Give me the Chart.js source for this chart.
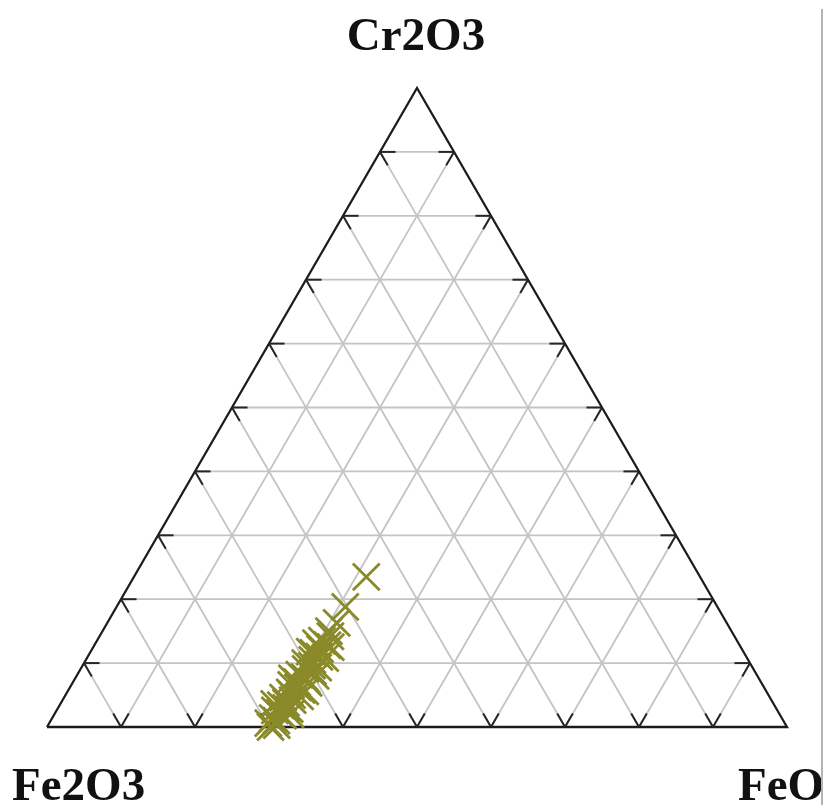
<!DOCTYPE html>
<html>
<head>
<meta charset="utf-8">
<script src="https://cdn.jsdelivr.net/npm/chart.js@4/dist/chart.umd.min.js"></script>
<style>
  html, body { margin: 0; padding: 0; background: #ffffff; }
  #wrap { width: 825px; height: 805px; }
</style>
</head>
<body>
<div id="wrap"><canvas id="c" width="825" height="805"></canvas></div>
<script>
// ---- Data (percent) ----
const apexLabels = ['Cr2O3', 'Fe2O3', 'FeO']; // top, bottom-left, bottom-right
const gridTicks = [10, 20, 30, 40, 50, 60, 70, 80, 90];

const cr2o3 = [23.5, 18.8, 16.3, 15.0, 14.2, 13.5, 12.8, 12.2, 11.6, 11.0,
               10.5, 10.0, 9.6, 9.1, 8.7, 8.2, 7.8, 7.4, 7.0, 6.6,
               6.2, 5.8, 5.4, 5.0, 4.6, 4.2, 3.8, 3.4, 3.0, 2.6,
               2.2, 1.8, 1.4, 1.0, 0.6, 0.3, 11.8, 9.3, 6.9, 4.8,
               2.8, 13.1, 0.0, 7.6, 3.6, 10.8, 8.0, 5.6, 2.0, 12.5];
const feo   = [31.4, 30.9, 31.0, 30.6, 31.2, 30.4, 31.5, 30.8, 30.2, 31.3,
               30.6, 29.9, 31.0, 30.4, 31.6, 30.0, 30.9, 31.4, 30.3, 29.7,
               30.8, 31.5, 30.1, 30.6, 29.6, 31.1, 30.4, 29.9, 30.8, 29.5,
               30.3, 31.0, 29.8, 30.5, 29.6, 30.9, 29.6, 32.0, 31.9, 31.8,
               31.4, 29.8, 30.2, 29.3, 28.9, 32.2, 32.3, 32.1, 31.9, 32.1];
const fe2o3 = [45.1, 50.3, 52.7, 54.4, 54.6, 56.1, 55.7, 57.0, 58.2, 57.7,
               58.9, 60.1, 59.4, 60.5, 59.7, 61.8, 61.3, 61.2, 62.7, 63.7,
               63.0, 62.7, 64.5, 64.4, 65.8, 64.7, 65.8, 66.7, 66.2, 67.9,
               67.5, 67.2, 68.8, 68.5, 69.8, 68.8, 58.6, 58.7, 61.2, 63.4,
               65.8, 57.1, 69.8, 63.1, 67.5, 57.0, 59.7, 62.3, 66.1, 55.4];

// ---- Ternary -> cartesian (in data units of the library scales) ----
const H = Math.sqrt(3) / 2 * 100;
function tern(cr, fe3, fe2) {
  const s = cr + fe3 + fe2;
  const c = cr / s * 100, f = fe2 / s * 100;
  return { x: f + c / 2, y: c * Math.sqrt(3) / 2 };
}

const datasets = [];
// scatter points (drawn on top: first dataset)
datasets.push({
  type: 'scatter',
  data: cr2o3.map((c, i) => tern(c, fe2o3[i], feo[i])),
  pointStyle: 'crossRot',
  pointRadius: 19,
  pointBorderWidth: 2.8,
  borderColor: '#8a8a2a',
  backgroundColor: '#8a8a2a',
  showLine: false,
  clip: false,
  order: 0
});

function seg(a, b, color, width, order) {
  datasets.push({
    type: 'line',
    data: [a, b],
    borderColor: color,
    borderWidth: width,
    pointRadius: 0,
    fill: false,
    tension: 0,
    clip: false,
    order: order
  });
}
const tickLen = 2.1; // percent units along the grid line

// grid lines and edge ticks
gridTicks.forEach(k => {
  const lines = [
    // constant Cr2O3 (horizontal)
    [[k, 100 - k, 0], [k, 0, 100 - k]],
    // constant Fe2O3: from left edge to bottom edge
    [[100 - k, k, 0], [0, k, 100 - k]],
    // constant FeO: from bottom edge to right edge
    [[0, 100 - k, k], [100 - k, 0, k]]
  ];
  lines.forEach(([p, q]) => {
    const a = tern(p[0], p[1], p[2]);
    const b = tern(q[0], q[1], q[2]);
    seg(a, b, '#c4c4c4', 1.8, 3);
    const L = Math.hypot(b.x - a.x, b.y - a.y);
    const ux = (b.x - a.x) / L, uy = (b.y - a.y) / L;
    seg(a, { x: a.x + ux * tickLen, y: a.y + uy * tickLen }, '#262626', 2, 1);
    seg(b, { x: b.x - ux * tickLen, y: b.y - uy * tickLen }, '#262626', 2, 1);
  });
});

// triangle outline
const vTop = tern(100, 0, 0), vLeft = tern(0, 100, 0), vRight = tern(0, 0, 100);
datasets.push({
  type: 'line',
  data: [vLeft, vRight, vTop, vLeft],
  borderColor: '#1c1c1c',
  borderWidth: 2.3,
  pointRadius: 0,
  fill: false,
  tension: 0,
  clip: false,
  order: 2
});

const labelPlugin = {
  id: 'labels',
  afterDraw(chart) {
    const ctx = chart.ctx;
    const xs = chart.scales.x, ys = chart.scales.y;
    const top = { x: xs.getPixelForValue(vTop.x), y: ys.getPixelForValue(vTop.y) };
    const left = { x: xs.getPixelForValue(vLeft.x), y: ys.getPixelForValue(vLeft.y) };
    const right = { x: xs.getPixelForValue(vRight.x), y: ys.getPixelForValue(vRight.y) };
    ctx.save();
    ctx.fillStyle = '#111111';
    ctx.font = 'bold 47px "Liberation Serif", "Times New Roman", serif';
    ctx.textBaseline = 'alphabetic';
    ctx.textAlign = 'center';
    ctx.fillText(apexLabels[0], top.x - 1, top.y - 38);
    ctx.textAlign = 'left';
    ctx.fillText(apexLabels[1], left.x - 35, left.y + 73);
    ctx.fillText(apexLabels[2], right.x - 49, right.y + 73);
    // thin frame line at right edge of the picture
    ctx.strokeStyle = '#b4b4b4';
    ctx.lineWidth = 2;
    ctx.beginPath();
    ctx.moveTo(822, 9);
    ctx.lineTo(822, 805);
    ctx.stroke();
    ctx.restore();
  }
};

new Chart(document.getElementById('c'), {
  type: 'scatter',
  data: { datasets },
  options: {
    responsive: false,
    animation: false,
    layout: { padding: { left: 47, right: 38, top: 88, bottom: 78 } },
    scales: {
      x: { type: 'linear', min: 0, max: 100, display: false },
      y: { type: 'linear', min: 0, max: H, display: false }
    },
    plugins: {
      legend: { display: false },
      tooltip: { enabled: false },
      title: { display: false }
    },
    elements: { line: { borderCapStyle: 'butt' } }
  },
  plugins: [labelPlugin]
});
</script>
</body>
</html>
